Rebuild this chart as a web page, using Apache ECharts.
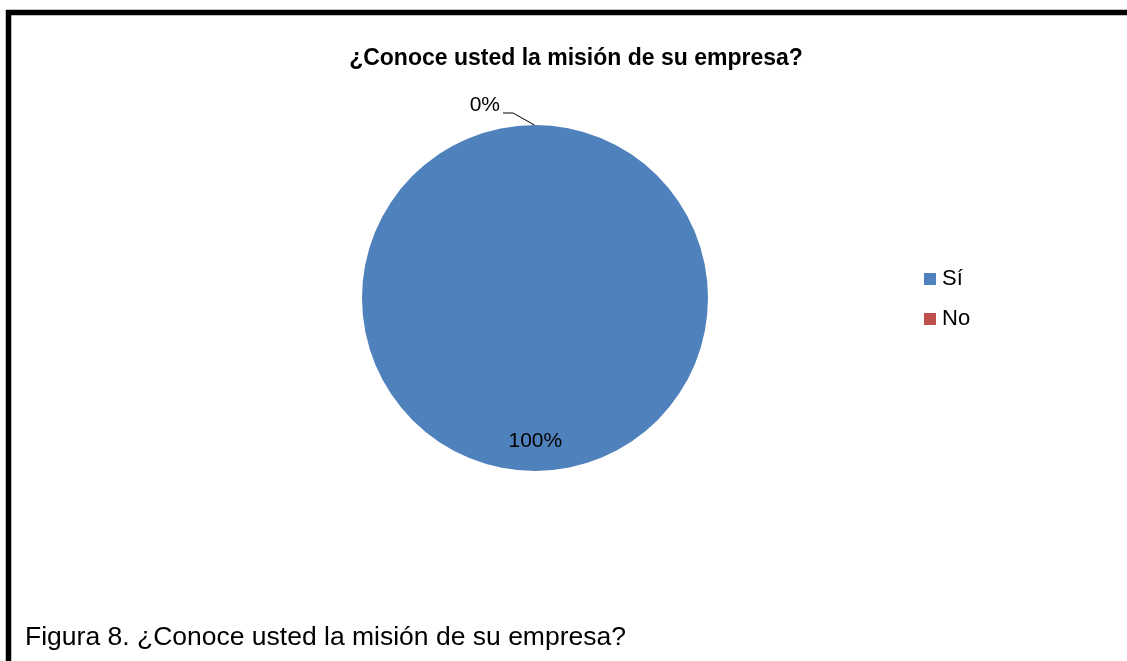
<!DOCTYPE html>
<html>
<head>
<meta charset="utf-8">
<script src="https://cdn.jsdelivr.net/npm/echarts@6/dist/echarts.min.js"></script>
<style>
html,body{margin:0;padding:0;background:#fff;}
#chart{width:1127px;height:661px;}
</style>
</head>
<body>
<div id="chart"></div>
<script>
const titleText = '¿Conoce usted la misión de su empresa?';
const captionText = 'Figura 8. ¿Conoce usted la misión de su empresa?';
const categories = ['Sí', 'No'];
const values = [100, 0];
const colors = ['#4F81BD', '#C0504D'];

const FONT = 'Arial, "Liberation Sans", sans-serif';
const total = values.reduce((a, b) => a + b, 0);
const pct = p => Math.round(p.value / total * 100) + '%';

const chart = echarts.init(document.getElementById('chart'));
chart.setOption({
  animation: false,
  backgroundColor: '#ffffff',
  title: {
    text: titleText,
    left: 576,
    textAlign: 'center',
    top: 47,
    padding: 0,
    textStyle: { fontFamily: FONT, fontSize: 23, fontWeight: 'bold', color: '#000' }
  },
  legend: {
    orient: 'vertical',
    left: 924,
    top: 268,
    padding: 0,
    itemWidth: 12,
    itemHeight: 12,
    itemGap: 18,
    icon: 'rect',
    data: categories,
    textStyle: { fontFamily: FONT, fontSize: 22, color: '#000', lineHeight: 22, padding: [0, 0, 0, 1] }
  },
  graphic: [
    {
      type: 'polyline',
      shape: { points: [[8.5, 700], [8.5, 12.5], [1140, 12.5]] },
      style: { stroke: '#000', lineWidth: 5.5, fill: null, lineJoin: 'miter' },
      silent: true
    },
    {
      type: 'text',
      style: {
        x: 25, y: 638, text: captionText,
        font: '26.5px ' + FONT, fill: '#000', verticalAlign: 'middle', align: 'left'
      },
      silent: true
    }
  ],
  series: [{
    type: 'pie',
    center: [535, 298],
    radius: 173,
    startAngle: 90.2,
    clockwise: true,
    avoidLabelOverlap: false,
    emphasis: { disabled: true },
    itemStyle: { borderWidth: 0 },
    data: categories.map((c, i) => ({
      name: c,
      value: values[i],
      itemStyle: { color: colors[i] },
      label: i === 0
        ? { position: 'inside', offset: [0, 54] }
        : { position: 'outside', distanceToLabelLine: 0, lineHeight: 16, padding: [0, 3, 0, 0], formatter: p => pct(p) + '\n ' },
      labelLine: i === 0 ? { show: false } : { show: true, length: 13, length2: 10, lineStyle: { color: '#000', width: 1 } }
    })),
    labelLayout: p => p.dataIndex === 1 ? { x: 503, y: 113, align: 'right', verticalAlign: 'middle' } : {},
    label: {
      formatter: pct,
      fontFamily: FONT, fontSize: 21, color: '#000'
    }
  }]
});
</script>
</body>
</html>
